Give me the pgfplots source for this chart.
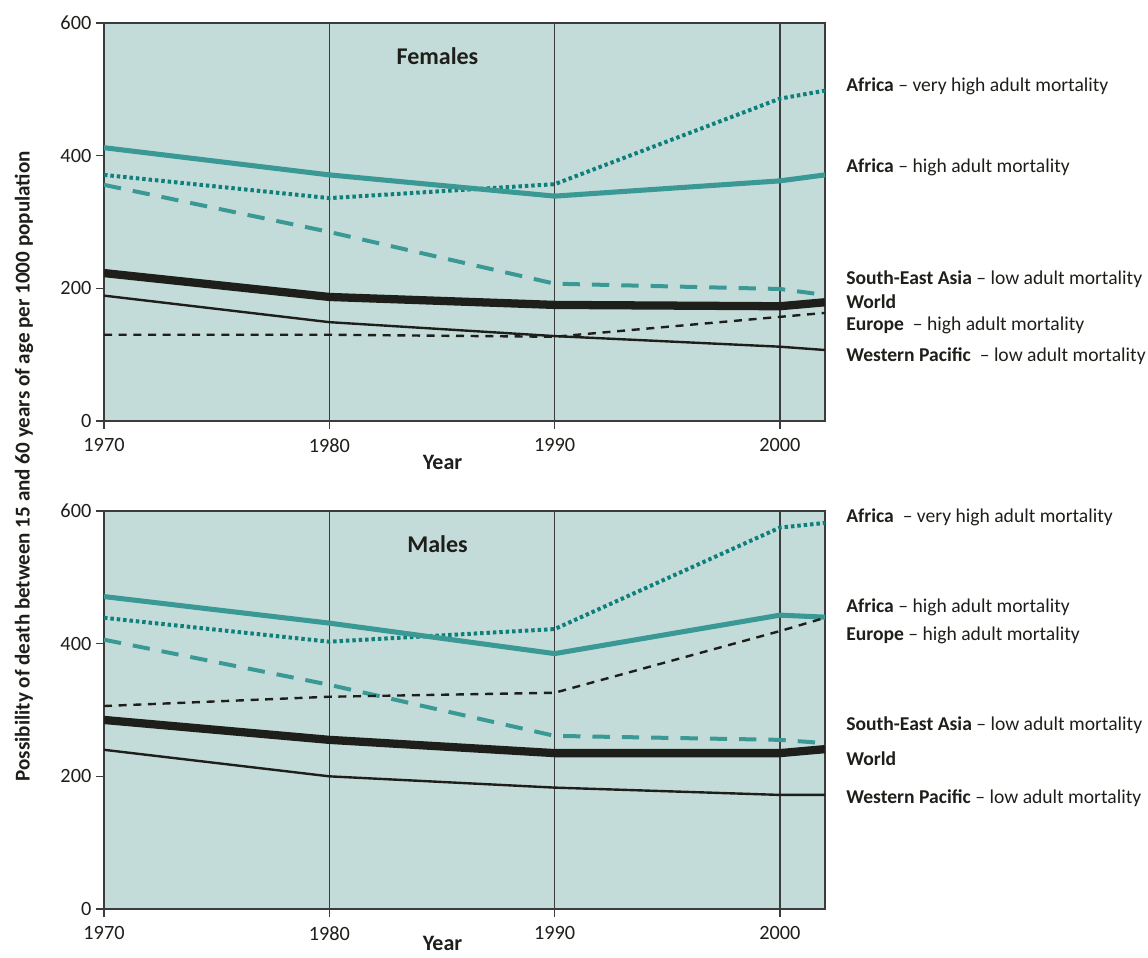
\documentclass[border=0pt]{standalone}
\usepackage{pgfplots}
\pgfplotsset{compat=1.18}
\usepackage{fontspec}
\setmainfont{Carlito}
\definecolor{bgteal}{HTML}{C4DCD9}
\definecolor{tealA}{HTML}{3A9994}
\definecolor{tealD}{HTML}{0E807B}
\definecolor{blk}{HTML}{1E1E1A}
\definecolor{gridc}{HTML}{3C3C3C}

\pgfplotsset{
  panel/.style={
    scale only axis, width=540.75pt, height=298.5pt, anchor=south west,
    xmin=1970, xmax=2002, ymin=0, ymax=600,
    xtick={1970,1980,1990,2000}, ytick={0,200,400,600},
    xticklabels={1970,1980,1990,2000},
    yticklabels={0,200,400,600},
    tick label style={font=\fontsize{15.2}{16}\selectfont, text=blk},
    xticklabel style={yshift=-3.5pt},
    tick align=outside, xtick pos=bottom, ytick pos=left,
    major tick length=6pt, tick style={gridc, line width=0.9pt},
    axis background/.style={fill=bgteal},
    axis line style={gridc, line width=0.9pt},
    xmajorgrids, grid style={gridc, line width=0.9pt},
    xlabel={\bfseries Year},
    xlabel style={font=\fontsize{16.5}{17}\selectfont, text=blk, inner sep=0pt, xshift=-16.5pt},
    clip=true,
  },
  afvh/.style={tealD, line width=3pt, dash pattern=on 2.6pt off 2.2pt},
  afh/.style={tealA, line width=3.8pt},
  sea/.style={tealA, line width=3pt, dash pattern=on 13pt off 9pt},
  wld/.style={blk, line width=6.2pt},
  wp/.style={blk, line width=1.8pt},
  eur/.style={blk, line width=1.8pt, dash pattern=on 6pt off 5pt},
}

\begin{document}
\begin{tikzpicture}
\path[use as bounding box] (0,0) rectangle (861pt,717.75pt);

\begin{axis}[panel, at={(78pt,402pt)}, xlabel style={yshift=1.5pt}]
\addplot[afvh] coordinates {(1970,371) (1980,336) (1990,357) (2000,486) (2002,498)};
\addplot[afh] coordinates {(1970,412) (1980,371) (1990,339) (2000,362) (2002,371)};
\addplot[sea] coordinates {(1970,356) (1980,285) (1990,207) (2000,199) (2002,190)};
\addplot[eur] coordinates {(1970,130) (1980,130) (1990,127) (2000,157) (2002,163)};
\addplot[wp] coordinates {(1970,189) (1980,149) (1990,128) (2000,112) (2002,107)};
\addplot[wld] coordinates {(1970,223) (1980,187) (1990,175) (2000,173) (2002,179)};
\node[font=\fontsize{18}{19}\selectfont\bfseries, text=blk] at (axis cs:1984.8,550) {Females};
\end{axis}

\begin{axis}[panel, at={(78pt,36pt)}, xlabel style={yshift=6.5pt}]
\addplot[afvh] coordinates {(1970,439) (1980,403) (1990,422) (2000,575) (2002,582)};
\addplot[afh] coordinates {(1970,471) (1980,431) (1990,385) (2000,443) (2002,440)};
\addplot[sea] coordinates {(1970,406) (1980,338) (1990,261) (2000,255) (2002,250)};
\addplot[eur] coordinates {(1970,306) (1980,320) (1990,326) (2000,419) (2002,439)};
\addplot[wp] coordinates {(1970,240) (1980,200) (1990,183) (2000,172) (2002,172)};
\addplot[wld] coordinates {(1970,285) (1980,255) (1990,235) (2000,235) (2002,241)};
\node[font=\fontsize{18}{19}\selectfont\bfseries, text=blk] at (axis cs:1984.8,550) {Males};
\end{axis}

% y label
\node[rotate=90, font=\fontsize{15.8}{16}\selectfont\bfseries, text=blk] at (18pt,368pt)
  {Possibility of death between 15 and 60 years of age per 1000 population};

% right labels
\begin{scope}[every node/.style={anchor=west, inner sep=0pt, font=\fontsize{14.7}{15}\selectfont, text=blk}]
\node at (634.5pt,653.25pt) {\textbf{Africa} -- very high adult mortality};
\node at (634.5pt,592.5pt) {\textbf{Africa} -- high adult mortality};
\node at (634.5pt,508.5pt) {\textbf{South-East Asia} -- low adult mortality};
\node at (634.5pt,491.25pt) {\textbf{World}};
\node at (634.5pt,474pt) {\textbf{Europe}~ -- high adult mortality};
\node at (634.5pt,450.75pt) {\textbf{Western Pacific}~ -- low adult mortality};
\node at (634.5pt,330pt) {\textbf{Africa}~ -- very high adult mortality};
\node at (634.5pt,262.5pt) {\textbf{Africa} -- high adult mortality};
\node at (634.5pt,241.5pt) {\textbf{Europe} -- high adult mortality};
\node at (634.5pt,174pt) {\textbf{South-East Asia} -- low adult mortality};
\node at (634.5pt,148.5pt) {\textbf{World}};
\node at (634.5pt,119.25pt) {\textbf{Western Pacific} -- low adult mortality};
\end{scope}
\end{tikzpicture}
\end{document}
